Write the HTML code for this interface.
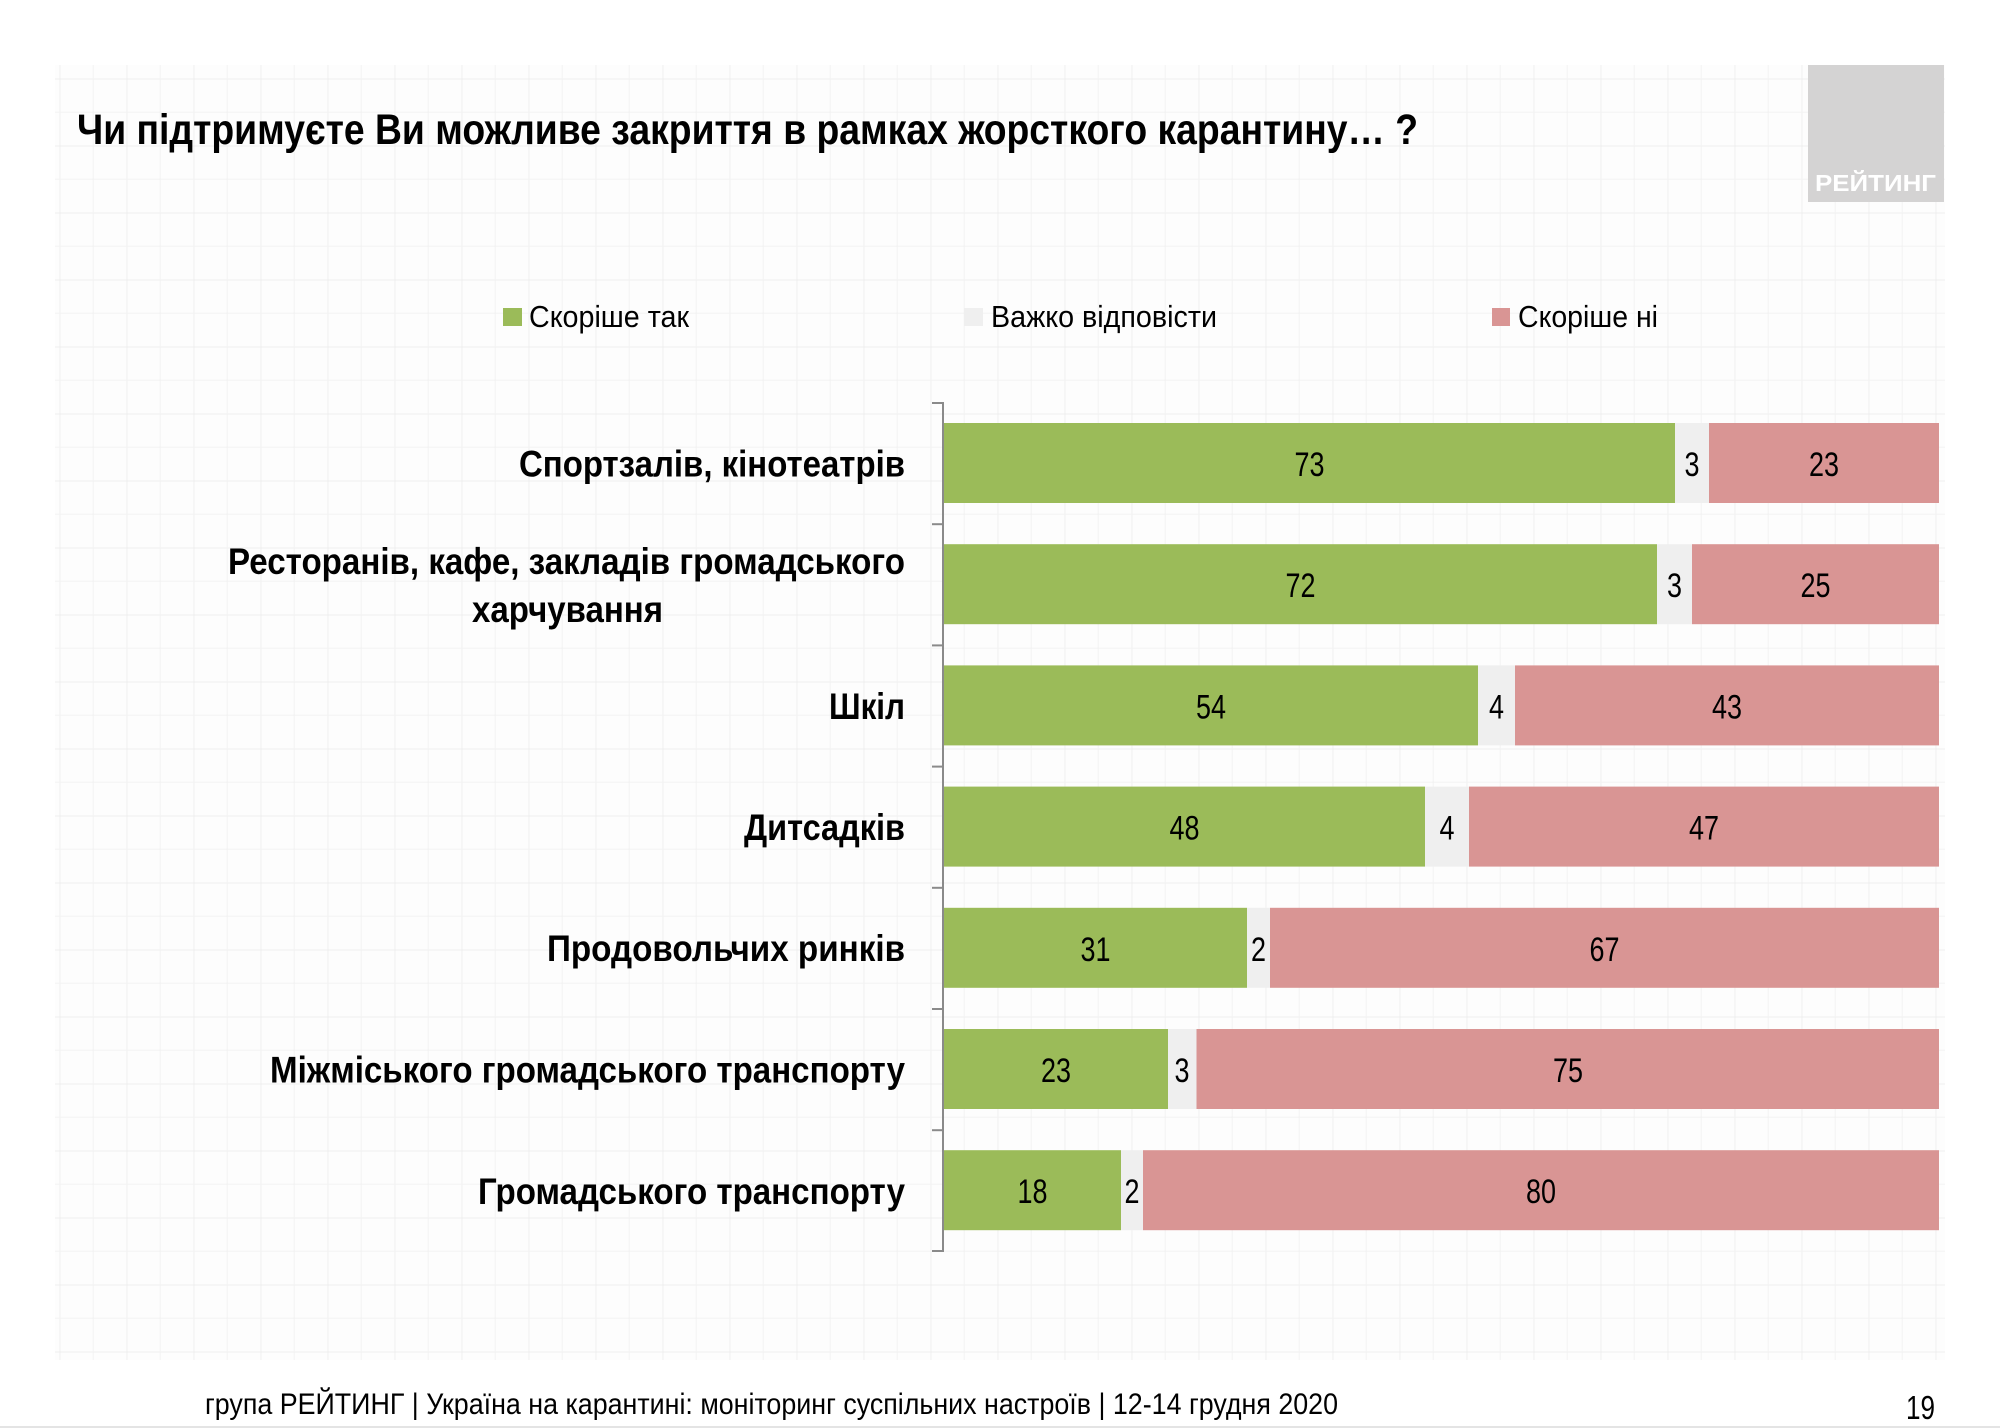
<!DOCTYPE html>
<html><head><meta charset="utf-8"><style>
html,body{margin:0;padding:0;background:#fff;}
svg{display:block;}
text{font-family:"Liberation Sans",Arial,sans-serif;}
</style></head><body>
<svg width="2000" height="1428" viewBox="0 0 2000 1428" xmlns="http://www.w3.org/2000/svg">
<defs>
<pattern id="g" x="59.7" y="11.7" width="67" height="67" patternUnits="userSpaceOnUse">
<path d="M0 0 V67 M0 0 H67" stroke="#e8e8e8" stroke-width="1.2" fill="none"/>
<path d="M33.5 0 V67 M0 33.5 H67" stroke="#f2f2f2" stroke-width="1" fill="none"/>
</pattern>
</defs>
<rect x="0" y="0" width="2000" height="1428" fill="#fff"/>
<rect x="55" y="65" width="1890" height="1295" fill="#fdfdfd"/>
<rect x="55" y="65" width="1890" height="1295" fill="url(#g)"/>
<rect x="0" y="1426" width="2000" height="2" fill="#e4e4e4"/>

<!-- logo -->
<rect x="1808" y="65" width="136" height="137" fill="#d4d3d3"/>
<text x="1815" y="191" font-size="23" font-weight="bold" fill="#fff" textLength="121" lengthAdjust="spacingAndGlyphs">РЕЙТИНГ</text>

<!-- title -->
<text x="77" y="144" font-size="43" font-weight="bold" fill="#000" textLength="1341" lengthAdjust="spacingAndGlyphs">Чи підтримуєте Ви можливе закриття в рамках жорсткого карантину… ?</text>

<!-- legend -->
<rect x="503" y="308" width="19" height="18" fill="#9bbb59"/>
<text x="529" y="327" font-size="31" fill="#000" textLength="160" lengthAdjust="spacingAndGlyphs">Скоріше так</text>
<rect x="964" y="308" width="19" height="18" fill="#efefef"/>
<text x="991" y="327" font-size="31" fill="#000" textLength="226" lengthAdjust="spacingAndGlyphs">Важко відповісти</text>
<rect x="1492" y="308" width="18" height="18" fill="#d99594"/>
<text x="1518" y="327" font-size="31" fill="#000" textLength="140" lengthAdjust="spacingAndGlyphs">Скоріше ні</text>

<!-- axis -->
<g stroke="#8a8a8a" stroke-width="2" fill="none">
<line x1="943" y1="402" x2="943" y2="1252"/>
<line x1="932" y1="403" x2="943" y2="403"/>
<line x1="932" y1="524.2" x2="943" y2="524.2"/>
<line x1="932" y1="645.4" x2="943" y2="645.4"/>
<line x1="932" y1="766.6" x2="943" y2="766.6"/>
<line x1="932" y1="887.8" x2="943" y2="887.8"/>
<line x1="932" y1="1009" x2="943" y2="1009"/>
<line x1="932" y1="1130.2" x2="943" y2="1130.2"/>
<line x1="932" y1="1251" x2="943" y2="1251"/>
</g>

<!-- bars -->
<g>
<rect x="944" y="423" width="731" height="80" fill="#9bbb59"/>
<rect x="1675" y="423" width="34" height="80" fill="#efefef"/>
<rect x="1709" y="423" width="230" height="80" fill="#d99594"/>
<rect x="944" y="544.2" width="713" height="80" fill="#9bbb59"/>
<rect x="1657" y="544.2" width="35" height="80" fill="#efefef"/>
<rect x="1692" y="544.2" width="247" height="80" fill="#d99594"/>
<rect x="944" y="665.4" width="534" height="80" fill="#9bbb59"/>
<rect x="1478" y="665.4" width="37" height="80" fill="#efefef"/>
<rect x="1515" y="665.4" width="424" height="80" fill="#d99594"/>
<rect x="944" y="786.6" width="481" height="80" fill="#9bbb59"/>
<rect x="1425" y="786.6" width="44" height="80" fill="#efefef"/>
<rect x="1469" y="786.6" width="470" height="80" fill="#d99594"/>
<rect x="944" y="907.8" width="303" height="80" fill="#9bbb59"/>
<rect x="1247" y="907.8" width="23" height="80" fill="#efefef"/>
<rect x="1270" y="907.8" width="669" height="80" fill="#d99594"/>
<rect x="944" y="1029" width="224" height="80" fill="#9bbb59"/>
<rect x="1168" y="1029" width="28.5" height="80" fill="#efefef"/>
<rect x="1196.5" y="1029" width="742.5" height="80" fill="#d99594"/>
<rect x="944" y="1150.2" width="177" height="80" fill="#9bbb59"/>
<rect x="1121" y="1150.2" width="22" height="80" fill="#efefef"/>
<rect x="1143" y="1150.2" width="796" height="80" fill="#d99594"/>
</g>

<!-- value labels -->
<g font-size="34" fill="#000" text-anchor="middle">
<text x="1309.5" y="476" textLength="30" lengthAdjust="spacingAndGlyphs">73</text>
<text x="1692" y="476" textLength="15" lengthAdjust="spacingAndGlyphs">3</text>
<text x="1824" y="476" textLength="30" lengthAdjust="spacingAndGlyphs">23</text>

<text x="1300.5" y="597.2" textLength="30" lengthAdjust="spacingAndGlyphs">72</text>
<text x="1674.5" y="597.2" textLength="15" lengthAdjust="spacingAndGlyphs">3</text>
<text x="1815.5" y="597.2" textLength="30" lengthAdjust="spacingAndGlyphs">25</text>

<text x="1211" y="718.4" textLength="30" lengthAdjust="spacingAndGlyphs">54</text>
<text x="1496.5" y="718.4" textLength="15" lengthAdjust="spacingAndGlyphs">4</text>
<text x="1727" y="718.4" textLength="30" lengthAdjust="spacingAndGlyphs">43</text>

<text x="1184.5" y="839.6" textLength="30" lengthAdjust="spacingAndGlyphs">48</text>
<text x="1447" y="839.6" textLength="15" lengthAdjust="spacingAndGlyphs">4</text>
<text x="1704" y="839.6" textLength="30" lengthAdjust="spacingAndGlyphs">47</text>

<text x="1095.5" y="960.8" textLength="30" lengthAdjust="spacingAndGlyphs">31</text>
<text x="1258.5" y="960.8" textLength="15" lengthAdjust="spacingAndGlyphs">2</text>
<text x="1604.5" y="960.8" textLength="30" lengthAdjust="spacingAndGlyphs">67</text>

<text x="1056" y="1082" textLength="30" lengthAdjust="spacingAndGlyphs">23</text>
<text x="1182" y="1082" textLength="15" lengthAdjust="spacingAndGlyphs">3</text>
<text x="1568" y="1082" textLength="30" lengthAdjust="spacingAndGlyphs">75</text>

<text x="1032.5" y="1203.2" textLength="30" lengthAdjust="spacingAndGlyphs">18</text>
<text x="1132" y="1203.2" textLength="15" lengthAdjust="spacingAndGlyphs">2</text>
<text x="1541" y="1203.2" textLength="30" lengthAdjust="spacingAndGlyphs">80</text>
</g>

<!-- category labels -->
<g font-size="37" font-weight="bold" fill="#000">
<text x="519" y="476.5" textLength="386" lengthAdjust="spacingAndGlyphs">Спортзалів, кінотеатрів</text>
<text x="228" y="574" textLength="677" lengthAdjust="spacingAndGlyphs">Ресторанів, кафе, закладів громадського</text>
<text x="472" y="622" textLength="191" lengthAdjust="spacingAndGlyphs">харчування</text>
<text x="829" y="719" textLength="76" lengthAdjust="spacingAndGlyphs">Шкіл</text>
<text x="744" y="840" textLength="161" lengthAdjust="spacingAndGlyphs">Дитсадків</text>
<text x="547" y="961" textLength="358" lengthAdjust="spacingAndGlyphs">Продовольчих ринків</text>
<text x="270" y="1082.5" textLength="635" lengthAdjust="spacingAndGlyphs">Міжміського громадського транспорту</text>
<text x="478" y="1204" textLength="427" lengthAdjust="spacingAndGlyphs">Громадського транспорту</text>
</g>

<!-- footer -->
<text x="205" y="1414" font-size="30" fill="#000" textLength="1133" lengthAdjust="spacingAndGlyphs">група РЕЙТИНГ | Україна на карантині: моніторинг суспільних настроїв | 12-14 грудня 2020</text>
<text x="1906" y="1419" font-size="33" fill="#000" textLength="29" lengthAdjust="spacingAndGlyphs">19</text>
</svg>
</body></html>
